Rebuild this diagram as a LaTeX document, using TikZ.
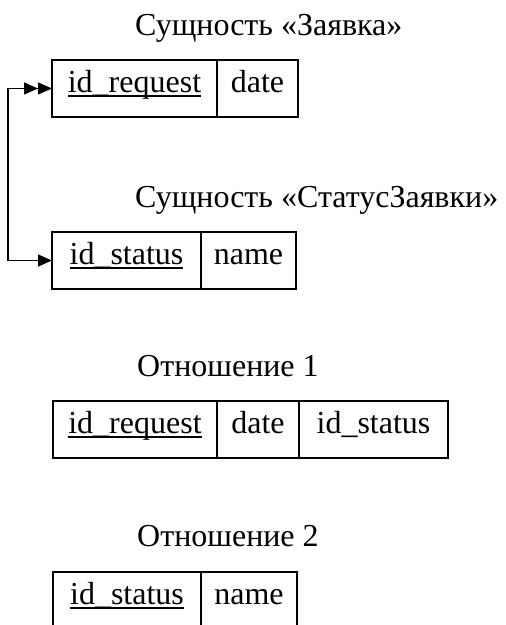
\documentclass[tikz,border=0pt]{standalone}
\usepackage{fontspec}
\setmainfont{Liberation Serif}
\usetikzlibrary{arrows.meta}

% primary key: word underlined at a fixed depth
\newcommand\keyfield[1]{\setbox0\hbox{#1}\rlap{\rule[-4.5pt]{\wd0}{1.1pt}}\box0}

\begin{document}
\begin{tikzpicture}[x=1pt,y=-1pt,
  every node/.style={font=\fontsize{32}{38}\selectfont},
  cell/.style={draw, line width=1.2pt, anchor=north west, inner xsep=0pt,
    inner ysep=0pt, outer sep=0pt, text height=32pt, text depth=25pt},
  heading/.style={anchor=base west, inner sep=0pt},
  link/.style={line width=1.2pt},
  tip/.style={}]
\useasboundingbox (0,0) rectangle (506,625);
\clip (0,0) rectangle (506,625);

% entity "Заявка"
\node[heading] (h1) at (135,35) {Сущность «Заявка»};
\node[cell, minimum width=165pt] (t1a) at (52,60) {\keyfield{id\_request}};
\node[cell, minimum width=81pt] (t1b) at (217,60) {date};

% entity "СтатусЗаявки"
\node[heading] (h2) at (135,207) {Сущность «СтатусЗаявки»};
\node[cell, minimum width=149pt] (t2a) at (52,232) {\keyfield{id\_status}};
\node[cell, minimum width=95pt] (t2b) at (201,232) {name};

% relation 1
\node[heading] (h3) at (137,376) {Отношение 1};
\node[cell, minimum width=164pt] (t3a) at (53,401) {\keyfield{id\_request}};
\node[cell, minimum width=82pt] (t3b) at (217,401) {date};
\node[cell, minimum width=149pt] (t3c) at (299,401) {id\_status};

% relation 2
\node[heading] (h4) at (137,546) {Отношение 2};
\node[cell, minimum width=148pt] (t4a) at (53,572) {\keyfield{id\_status}};
\node[cell, minimum width=96pt] (t4b) at (201,572) {name};

% one-to-many link between the entities
\coordinate (bend) at (8,170);
\draw[link, {Triangle[length=14pt,width=12pt]Triangle[length=14pt,width=12pt]}-{Triangle[length=14pt,width=12pt]}]
  (t1a.west) -| (bend) |- (t2a.west);
\end{tikzpicture}
\end{document}
